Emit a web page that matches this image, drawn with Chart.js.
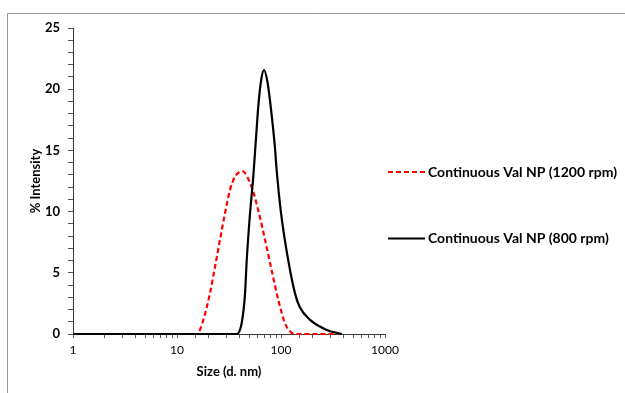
<!DOCTYPE html>
<html>
<head>
<meta charset="utf-8">
<script src="https://cdn.jsdelivr.net/npm/chart.js@4/dist/chart.umd.min.js"></script>
<style>
  html, body { margin: 0; padding: 0; background: #fff; }
  #wrap { width: 625px; height: 393px; position: relative; }
</style>
</head>
<body>
<div id="wrap"><canvas id="c" width="625" height="393"></canvas></div>
<script>
// ---- data ----
const seriesLabels = ['Continuous Val NP (1200 rpm)', 'Continuous Val NP (800 rpm)'];

const sizes1200 = [1, 5, 10, 15.5, 17.9, 20.7, 23.2, 25.9, 29.0, 32.4, 36.1, 42.5, 52.2, 60.5, 70.2, 81.3, 94.2, 109.2, 126.8, 141, 200, 363];
const intensity1200 = [0, 0, 0, 0, 1.14, 3.3, 5.5, 7.7, 9.9, 11.8, 12.85, 13.3, 12.0, 10.1, 7.7, 5.2, 2.8, 0.87, 0.1, 0, 0, 0];

const sizes800 = [1, 5, 10, 20, 37.5, 41.9, 45.1, 46.8, 50.1, 54.3, 57.5, 60.5, 64.6, 68.7, 74.1, 78.3, 87.5, 90.8, 100, 117.5, 136.5, 151.4, 190.5, 275.4, 383.7];
const intensity800 = [0, 0, 0, 0, 0, 0.9, 3.3, 6.0, 9.6, 13.0, 16.0, 18.6, 20.8, 21.57, 20.6, 19.1, 15.2, 13.4, 9.9, 6.0, 3.3, 2.2, 1.15, 0.33, 0];

const xTickLabels = [1, 10, 100, 1000];
const yTickLabels = [0, 5, 10, 15, 20, 25];

const toPoints = (xs, ys) => xs.map((x, i) => ({ x: x, y: ys[i] }));

const frameAndLegend = {
  id: 'frameAndLegend',
  beforeDraw(chart) {
    const ctx = chart.ctx;
    ctx.save();
    ctx.strokeStyle = '#9a9a9a';
    ctx.lineWidth = 1;
    ctx.beginPath();
    ctx.moveTo(7.5, 393);
    ctx.lineTo(7.5, 13.5);
    ctx.lineTo(625, 13.5);
    ctx.stroke();
    ctx.restore();
  },
  afterDraw(chart) {
    const ctx = chart.ctx;
    const rows = [172, 238.5];
    ctx.save();
    chart.data.datasets.forEach((ds, i) => {
      const y = rows[i];
      ctx.strokeStyle = ds.borderColor;
      ctx.lineWidth = ds.borderWidth;
      ctx.setLineDash(ds.borderDash || []);
      ctx.beginPath();
      ctx.moveTo(388, y);
      ctx.lineTo(425, y);
      ctx.stroke();
      ctx.setLineDash([]);
      ctx.fillStyle = '#000';
      ctx.font = 'bold 14px Lato';
      ctx.textAlign = 'left';
      ctx.textBaseline = 'middle';
      ctx.fillText(ds.label, 428, y);
    });
    ctx.restore();
  }
};

new Chart(document.getElementById('c'), {
  type: 'line',
  data: {
    datasets: [
      {
        label: seriesLabels[0],
        data: toPoints(sizes1200, intensity1200),
        borderColor: '#ff0000',
        borderWidth: 2.2,
        borderDash: [5, 3],
        pointRadius: 0,
        cubicInterpolationMode: 'monotone',
        fill: false,
        clip: 6,
        order: 2
      },
      {
        label: seriesLabels[1],
        data: toPoints(sizes800, intensity800),
        borderColor: '#000000',
        borderWidth: 2.2,
        pointRadius: 0,
        cubicInterpolationMode: 'monotone',
        fill: false,
        clip: 6,
        order: 1
      }
    ]
  },
  options: {
    responsive: false,
    animation: false,
    devicePixelRatio: 1,
    layout: { padding: { left: 0, top: 28, right: 240, bottom: 0 } },
    plugins: { legend: { display: false }, tooltip: { enabled: false } },
    scales: {
      x: {
        type: 'logarithmic',
        min: 1,
        max: 1000,
        afterFit(s) { s.height = 59; },
        border: { color: '#3a3a3a', width: 1 },
        grid: { drawOnChartArea: false, drawTicks: true, tickLength: 4, color: '#555' },
        ticks: {
          autoSkip: false,
          maxRotation: 0,
          padding: 5,
          color: '#000',
          font: { family: 'Lato', size: 12 },
          callback: (v) => xTickLabels.includes(v) ? String(v) : ''
        },
        title: {
          display: true,
          text: 'Size (d. nm)',
          color: '#000',
          font: { family: 'Lato', size: 13, weight: 'bold' },
          padding: { bottom: 13 }
        }
      },
      y: {
        min: 0,
        max: 25,
        afterFit(s) { s.width = 73; },
        border: { color: '#3a3a3a', width: 1 },
        grid: { drawOnChartArea: false, drawTicks: true, tickLength: 5, color: '#555' },
        ticks: {
          stepSize: 1,
          autoSkip: false,
          padding: 8,
          color: '#000',
          font: { family: 'Lato', size: 13, weight: 'bold' },
          callback: (v) => yTickLabels.includes(v) ? String(v) : ''
        },
        title: {
          display: true,
          text: '% Intensity',
          color: '#000',
          font: { family: 'Lato', size: 13, weight: 'bold' },
          padding: { top: 28 }
        }
      }
    }
  },
  plugins: [frameAndLegend]
});
</script>
</body>
</html>
